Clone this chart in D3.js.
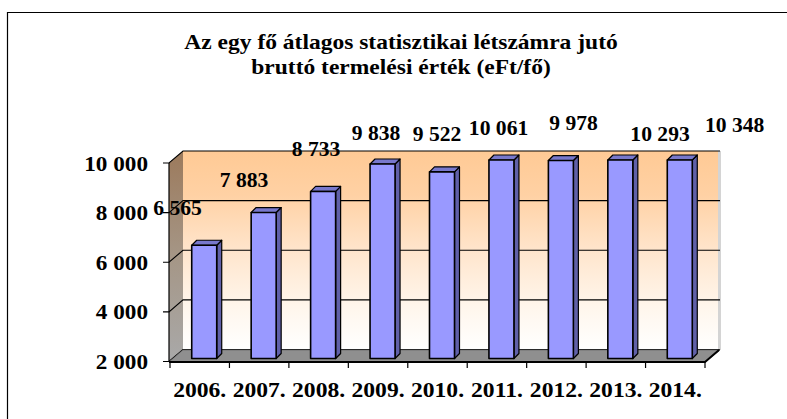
<!DOCTYPE html>
<html>
<head>
<meta charset="utf-8">
<script src="https://cdn.jsdelivr.net/npm/d3@7"></script>
<style>
  html, body { margin: 0; padding: 0; background: #fff; }
  svg { display: block; }
  text { font-family: "Liberation Serif", "Times New Roman", serif; font-weight: bold; fill: #000; }
</style>
</head>
<body>
<script>
// ---- data ----
const categories = ["2006.", "2007.", "2008.", "2009.", "2010.", "2011.", "2012.", "2013.", "2014."];
const values = [6565, 7883, 8733, 9838, 9522, 10061, 9978, 10293, 10348];
const yTicks = [2000, 4000, 6000, 8000, 10000];
const titleLines = ["Az egy fő átlagos statisztikai létszámra jutó", "bruttó termelési érték (eFt/fő)"];

// ---- layout ----
const W = 787, H = 419;
const svg = d3.select("body").append("svg").attr("width", W).attr("height", H);
const defs = svg.append("defs");

const fmt = d3.formatLocale({ decimal: ",", thousands: " ", grouping: [3], currency: ["", ""] }).format(",d");

const x = d3.scaleBand().domain(categories).range([170, 705]).paddingInner(0).paddingOuter(0);
const y = d3.scaleLinear().domain([2000, 10000]).range([361.5, 163]).clamp(true);

const depth = { dx: 14, dy: -12 };      // back wall offset
const barPlane = { dx: 4.5, dy: -3 };   // bar plane offset
const ext = { dx: 5, dy: -5 };          // bar extrusion
const barW = 25;
const x0 = x.range()[0] - 1, x1 = x.range()[1];
const yTop = y(10000), yBot = y(2000) + 0.5;

// outer frame
svg.append("path").attr("d", `M7.5,${H}V12.5H${W}`).attr("fill", "none").attr("stroke", "#000").attr("stroke-width", 1.2);

// title
function stretchedText(g, tx, ty, str, size, sx, anchor) {
  return g.append("text")
    .attr("transform", `translate(${tx},${ty}) scale(${sx},1)`)
    .attr("text-anchor", anchor)
    .attr("font-size", size)
    .text(str);
}
titleLines.forEach((t, i) => stretchedText(svg, 401, 49 + i * 25, t, 21, 1.12, "middle"));

// gradients
const gWall = defs.append("linearGradient").attr("id", "gWall").attr("x1", 0).attr("y1", 0).attr("x2", 0).attr("y2", 1);
[["0%", "#FFCA95"], ["22%", "#FFD1A4"], ["50%", "#FFE5CC"], ["78%", "#FFF6EC"], ["100%", "#FFFFFF"]]
  .forEach(([o, c]) => gWall.append("stop").attr("offset", o).attr("stop-color", c));
const gSide = defs.append("linearGradient").attr("id", "gSide").attr("x1", 0).attr("y1", 0).attr("x2", 0).attr("y2", 1);
[["0%", "#9C7A5C"], ["50%", "#A59686"], ["100%", "#A9A9A9"]]
  .forEach(([o, c]) => gSide.append("stop").attr("offset", o).attr("stop-color", c));

// side wall
svg.append("path")
  .attr("d", `M${x0},${yTop}L${x0 + depth.dx},${yTop + depth.dy}L${x0 + depth.dx},${yBot + depth.dy}L${x0},${yBot}Z`)
  .attr("fill", "url(#gSide)");

// back wall
svg.append("rect")
  .attr("x", x0 + depth.dx).attr("y", yTop + depth.dy)
  .attr("width", x1 - x0).attr("height", yBot - yTop)
  .attr("fill", "url(#gWall)");
// right edge of back wall
svg.append("rect")
  .attr("x", x1 + depth.dx - 1).attr("y", yTop + depth.dy)
  .attr("width", 3).attr("height", yBot - yTop)
  .attr("fill", "#D4D4D4");

// gridlines (side + back) and y ticks
const grid = svg.append("g");
yTicks.forEach(v => {
  const yy = y(v);
  grid.append("path")
    .attr("d", `M${x0 - 6},${yy}H${x0}L${x0 + depth.dx},${yy + depth.dy}H${x1 + depth.dx + 1}`)
    .attr("fill", "none").attr("stroke", "#000").attr("stroke-width", 1.1);
});

// floor
svg.append("path")
  .attr("d", `M${x0},${yBot}L${x0 + depth.dx},${yBot + depth.dy}H${x1 + depth.dx + 1}L${x1},${yBot}Z`)
  .attr("fill", "#8F8F8F").attr("stroke", "#6A6A6A").attr("stroke-width", 0.8);

// y axis line
svg.append("line").attr("x1", x0).attr("x2", x0).attr("y1", yTop).attr("y2", yBot)
  .attr("stroke", "#000").attr("stroke-width", 1.2);

// bars
const bars = svg.append("g");
categories.forEach((c, i) => {
  const v = values[i];
  const bx = x(c) + x.bandwidth() / 2 - barW / 2 + barPlane.dx;
  const by = y(v) + barPlane.dy;
  const bb = y(2000) + barPlane.dy;
  const g = bars.append("g").attr("stroke", "#000").attr("stroke-width", 1.2).attr("stroke-linejoin", "round");
  // side
  g.append("path")
    .attr("d", `M${bx + barW},${by}L${bx + barW + ext.dx},${by + ext.dy}L${bx + barW + ext.dx},${bb + ext.dy}L${bx + barW},${bb}Z`)
    .attr("fill", "#6060A8");
  // top
  g.append("path")
    .attr("d", `M${bx},${by}L${bx + ext.dx},${by + ext.dy}L${bx + barW + ext.dx},${by + ext.dy}L${bx + barW},${by}Z`)
    .attr("fill", "#7878CC");
  // front
  g.append("rect").attr("x", bx).attr("y", by).attr("width", barW).attr("height", bb - by)
    .attr("fill", "#9999FF").attr("stroke-width", 1.6);
});

// x axis (front edge of floor)
svg.append("path")
  .attr("d", `M${x0},${yBot}H${x1}L${x1 + depth.dx},${yBot + depth.dy}`)
  .attr("fill", "none").attr("stroke", "#000").attr("stroke-width", 2);
const ticksX = d3.range(categories.length + 1).map(i => x.range()[0] + i * x.step());
ticksX.forEach(t => {
  svg.append("line").attr("x1", t).attr("x2", t).attr("y1", yBot).attr("y2", yBot + 6)
    .attr("stroke", "#000").attr("stroke-width", 1.2);
});

// x labels
categories.forEach(c => stretchedText(svg, x(c) + x.bandwidth() / 2, 397, c, 20, 1.18, "middle"));

// y labels
yTicks.forEach(v => stretchedText(svg, 148, y(v) + 7.5, fmt(v), 20, 1.16, "end"));

// data labels (manually placed in the original, offsets relative to bar top centre)
const labelNudge = [[-26.7, -30], [-19.6, -25.5], [-7.1, -35.4], [-6.5, -24], [-5, -31.2], [-2.9, -25], [12.7, -30.5], [39.7, -19.3], [54.8, -28.3]];
categories.forEach((c, i) => {
  const cx = x(c) + x.bandwidth() / 2 + barPlane.dx;
  const cy = y(values[i]) + barPlane.dy;
  stretchedText(svg, cx + labelNudge[i][0], cy + labelNudge[i][1], fmt(values[i]), 20, 1.08, "middle");
});
</script>
</body>
</html>
